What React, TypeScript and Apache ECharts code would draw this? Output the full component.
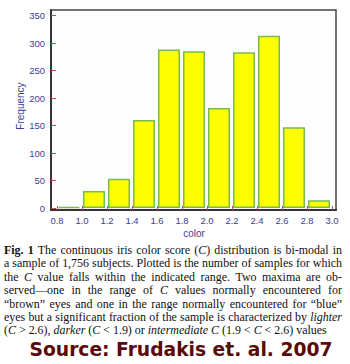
import React, { useEffect, useRef } from "react";
import * as echarts from "echarts";

// Histogram data (bin start values and counts)
const binStarts = [0.8, 1.0, 1.2, 1.4, 1.6, 1.8, 2.0, 2.2, 2.4, 2.6, 2.8];
const counts = [2, 31, 53, 160, 288, 285, 182, 283, 313, 147, 14];
const binWidth = 0.2;
const xTicks = [0.8, 1.0, 1.2, 1.4, 1.6, 1.8, 2.0, 2.2, 2.4, 2.6, 2.8, 3.0];
const yTicks = [0, 50, 100, 150, 200, 250, 300, 350];

// Caption: "_" toggles italic, "#" toggles bold
const captionLines = [
  "#Fig. 1# The continuous iris color score (_C_) distribution is bi-modal in",
  "a sample of 1,756 subjects. Plotted is the number of samples for which",
  "the _C_ value falls within the indicated range. Two maxima are ob-",
  "served\u2014one in the range of _C_ values normally encountered for",
  "\u201cbrown\u201d eyes and one in the range normally encountered for \u201cblue\u201d",
  "eyes but a significant fraction of the sample is characterized by _lighter_",
  "(_C_ > 2.6), _darker_ (_C_ < 1.9) or _intermediate C_ (1.9 < _C_ < 2.6) values",
];
const sourceText = "Source: Frudakis et. al. 2007";

type Run = { text: string; b: boolean; i: boolean };

function parseLine(s: string): Run[][] {
  const words: Run[][] = [];
  let cur: Run[] = [];
  let b = false;
  let it = false;
  for (const ch of s) {
    if (ch === "#") { b = !b; continue; }
    if (ch === "_") { it = !it; continue; }
    if (ch === " ") {
      if (cur.length) words.push(cur);
      cur = [];
      continue;
    }
    const last = cur[cur.length - 1];
    if (last && last.b === b && last.i === it) last.text += ch;
    else cur.push({ text: ch, b, i: it });
  }
  if (cur.length) words.push(cur);
  return words;
}

const SERIF = "'Liberation Serif', 'Times New Roman', serif";
const LABEL_COLOR = "#3d3d98";

export default function App() {
  const ref = useRef<HTMLDivElement>(null);
  useEffect(() => {
    if (!ref.current) return;
    const chart = echarts.init(ref.current, undefined, { renderer: "svg" });

    const canvas = document.createElement("canvas");
    const ctx = canvas.getContext("2d")!;
    const fontStr = (r: Run, size: number) =>
      `${r.i ? "italic " : ""}${r.b ? "bold " : ""}${size}px ${SERIF}`;
    const wordWidth = (w: Run[], size: number) =>
      w.reduce((a, r) => {
        ctx.font = fontStr(r, size);
        return a + ctx.measureText(r.text).width;
      }, 0);

    const parsed = captionLines.map(parseLine);
    const left = 4;
    const right = 342;
    const target = right - left;
    let maxW = 0;
    parsed.forEach((ws) => {
      const base = 10;
      ctx.font = `${base}px ${SERIF}`;
      const sp = ctx.measureText(" ").width;
      const w = ws.reduce((a, w2) => a + wordWidth(w2, base), 0) + sp * (ws.length - 1);
      maxW = Math.max(maxW, w);
    });
    const fs = Math.min(12, (10 * target) / maxW);

    const graphics: any[] = [];
    const lineY0 = 250;
    const lineStep = 13.4;
    parsed.forEach((ws, li) => {
      const widths = ws.map((w) => wordWidth(w, fs));
      const total = widths.reduce((a, b) => a + b, 0);
      ctx.font = `${fs}px ${SERIF}`;
      const sp = ctx.measureText(" ").width;
      const isLast = li === parsed.length - 1;
      const gap = isLast ? sp : (target - total) / (ws.length - 1);
      let x = left;
      ws.forEach((w, wi) => {
        const rich: any = {};
        let str = "";
        w.forEach((r) => {
          const key = `s${r.b ? "b" : ""}${r.i ? "i" : ""}n`;
          rich[key] = {
            fontFamily: SERIF,
            fontSize: fs,
            fontWeight: r.b ? "bold" : "normal",
            fontStyle: r.i ? "italic" : "normal",
            fill: "#111",
          };
          str += `{${key}|${r.text.replace(/[{}|]/g, "")}}`;
        });
        graphics.push({
          type: "text",
          x,
          y: lineY0 + li * lineStep,
          silent: true,
          style: {
            text: str,
            rich,
            fontFamily: SERIF,
            fontSize: fs,
            fill: "#111",
            verticalAlign: "middle",
            align: "left",
          },
        });
        x += widths[wi] + gap;
      });
    });

    const srcFamily = "'DejaVu Sans', Verdana, sans-serif";
    ctx.font = `bold 18px ${srcFamily}`;
    const srcW = ctx.measureText(sourceText).width;
    const srcSize = (18 * 303) / srcW;
    graphics.push({
      type: "text",
      x: 181,
      y: 349,
      silent: true,
      style: {
        text: sourceText,
        fontFamily: srcFamily,
        fontWeight: "bold",
        fontSize: srcSize,
        fill: "#5a0808",
        align: "center",
        verticalAlign: "middle",
      },
    });
    graphics.push({
      type: "text",
      x: 194,
      y: 233,
      silent: true,
      style: {
        text: "color",
        fontFamily: "'Liberation Sans', Arial, sans-serif",
        fontSize: 10,
        fill: LABEL_COLOR,
        align: "center",
        verticalAlign: "middle",
      },
    });
    graphics.push({
      type: "text",
      x: 20,
      y: 106,
      rotation: Math.PI / 2,
      silent: true,
      style: {
        text: "Frequency",
        fontFamily: "'Liberation Sans', Arial, sans-serif",
        fontSize: 10,
        fill: LABEL_COLOR,
        align: "center",
        verticalAlign: "middle",
      },
    });

    const data = binStarts.map((s, i) => [s + binWidth / 2 - 0.004, counts[i]]);

    chart.setOption({
      animation: false,
      backgroundColor: "#ffffff",
      grid: {
        left: 51,
        right: 14,
        top: 10,
        bottom: 154,
        show: true,
        borderColor: "#444",
        borderWidth: 1.5,
        backgroundColor: "#fdfdfd",
      },
      xAxis: {
        type: "value",
        min: 0.752,
        max: 3.032,
        axisLine: { show: true, onZero: false, lineStyle: { color: "#333", width: 2 } },
        axisTick: {
          show: true,
          inside: true,
          length: 4,
          customValues: xTicks,
          lineStyle: { color: "#c04848", width: 1 },
        },
        axisLabel: {
          customValues: xTicks,
          formatter: (v: number) => v.toFixed(1),
          color: LABEL_COLOR,
          fontSize: 9.5,
          fontFamily: "'Liberation Sans', Arial, sans-serif",
          margin: 5,
        },
        splitLine: { show: false },
      },
      yAxis: {
        type: "value",
        min: -3.6,
        max: 360,
        axisLine: { show: true, onZero: false, lineStyle: { color: "#333", width: 2 } },
        axisTick: {
          show: true,
          inside: true,
          length: 5,
          customValues: yTicks,
          lineStyle: { color: "#c04848", width: 1 },
        },
        axisLabel: {
          customValues: yTicks,
          color: LABEL_COLOR,
          fontSize: 9.5,
          fontFamily: "'Liberation Sans', Arial, sans-serif",
          margin: 6,
        },
        splitLine: { show: false },
      },
      series: [
        {
          type: "bar",
          data,
          barWidth: 22,
          itemStyle: {
            color: "#ffff00",
            borderColor: "#78bc4c",
            borderWidth: 1.5,
          },
        },
      ],
      graphic: graphics,
    });
    return () => chart.dispose();
  }, []);
  return (
    <div
      ref={ref}
      style={{ position: "absolute", left: 0, top: 0, width: 350, height: 364 }}
    />
  );
}
